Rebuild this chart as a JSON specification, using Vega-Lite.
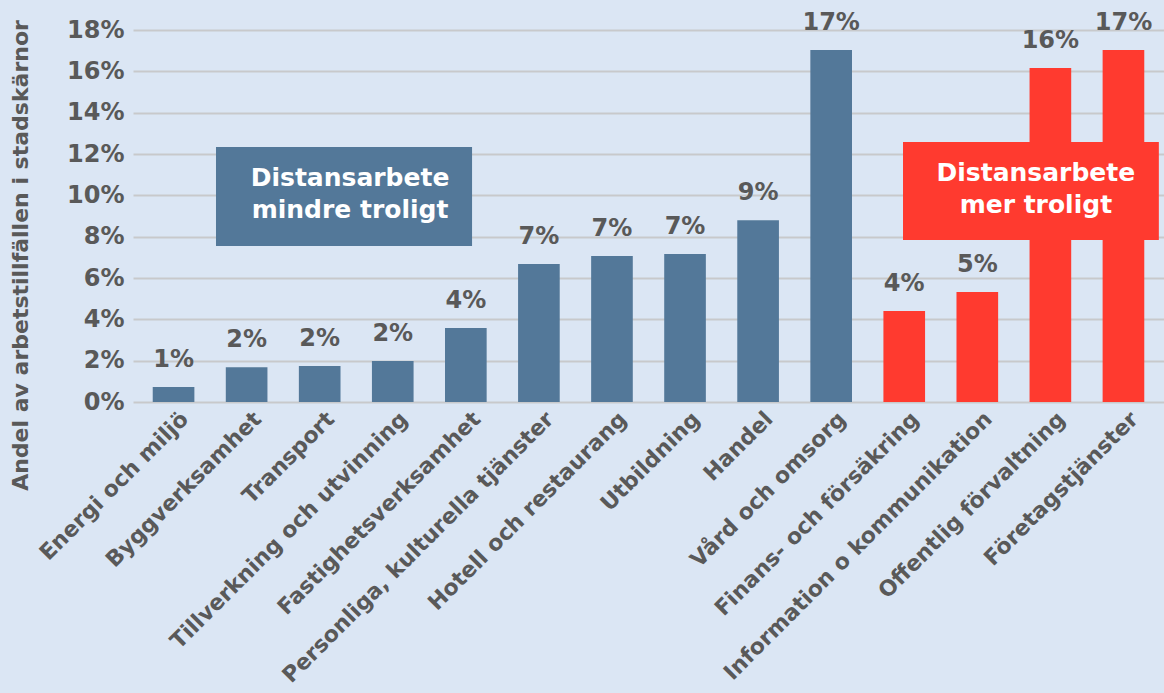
{
  "$schema": "https://vega.github.io/schema/vega-lite/v6.json",
  "width": 1031,
  "height": 372,
  "autosize": {"type": "none"},
  "padding": {"left": 133, "top": 30, "right": 0, "bottom": 291},
  "background": "#dbe6f4",
  "config": {"view": {"stroke": null}, "font": "DejaVu Sans"},
  "datasets": {
    "bars": [
      {"sektor": "Energi och miljö", "andel": 0.0072, "grupp": "mindre"},
      {"sektor": "Byggverksamhet", "andel": 0.0168, "grupp": "mindre"},
      {"sektor": "Transport", "andel": 0.0174, "grupp": "mindre"},
      {"sektor": "Tillverkning och utvinning", "andel": 0.0198, "grupp": "mindre"},
      {"sektor": "Fastighetsverksamhet", "andel": 0.0358, "grupp": "mindre"},
      {"sektor": "Personliga, kulturella tjänster", "andel": 0.0668, "grupp": "mindre"},
      {"sektor": "Hotell och restaurang", "andel": 0.0706, "grupp": "mindre"},
      {"sektor": "Utbildning", "andel": 0.0716, "grupp": "mindre"},
      {"sektor": "Handel", "andel": 0.088, "grupp": "mindre"},
      {"sektor": "Vård och omsorg", "andel": 0.1703, "grupp": "mindre"},
      {"sektor": "Finans- och försäkring", "andel": 0.044, "grupp": "mer"},
      {"sektor": "Information o kommunikation", "andel": 0.0532, "grupp": "mer"},
      {"sektor": "Offentlig förvaltning", "andel": 0.1616, "grupp": "mer"},
      {"sektor": "Företagstjänster", "andel": 0.1703, "grupp": "mer"}
    ],
    "boxes": [
      {"grupp": "mindre", "x0": 1.127, "x1": 4.604, "y0": 0.0755, "y1": 0.1234},
      {"grupp": "mer", "x0": 10.456, "x1": 13.93, "y0": 0.0784, "y1": 0.1258}
    ],
    "notes": [
      {"rad": "Distansarbete", "x": 2.947, "y": 0.1086},
      {"rad": "mindre troligt", "x": 2.947, "y": 0.093},
      {"rad": "Distansarbete", "x": 12.26, "y": 0.1108},
      {"rad": "mer troligt", "x": 12.26, "y": 0.0953}
    ]
  },
  "layer": [
    {
      "data": {"name": "bars"},
      "encoding": {
        "x": {
          "field": "sektor",
          "type": "nominal",
          "sort": null,
          "scale": {"paddingInner": 0.43, "paddingOuter": 0.27},
          "axis": {
            "title": null,
            "labelAngle": -45,
            "labelFontSize": 22,
            "labelFontWeight": "bold",
            "labelColor": "#595959",
            "labelLimit": 450,
            "labelPadding": 6,
            "labelOffset": 4,
            "ticks": false,
            "domain": false
          }
        },
        "y": {
          "field": "andel",
          "type": "quantitative",
          "scale": {"domain": [0, 0.18], "nice": false},
          "axis": {
            "title": "Andel av arbetstillfällen i stadskärnor",
            "titleFontSize": 22,
            "titleFontWeight": "bold",
            "titleColor": "#595959",
            "titleX": -113,
            "titleY": 225,
            "titleBaseline": "middle",
            "titleAlign": "center",
            "format": ".0%",
            "values": [0, 0.02, 0.04, 0.06, 0.08, 0.1, 0.12, 0.14, 0.16, 0.18],
            "labelFontSize": 24,
            "labelFontWeight": "bold",
            "labelColor": "#595959",
            "labelPadding": 9,
            "ticks": false,
            "domain": false,
            "grid": true,
            "gridColor": "#c8c9cb",
            "gridWidth": 2
          }
        }
      },
      "layer": [
        {
          "mark": {"type": "bar"},
          "encoding": {
            "color": {
              "field": "grupp",
              "type": "nominal",
              "scale": {"domain": ["mindre", "mer"], "range": ["#537899", "#ff3a2f"]},
              "legend": null
            }
          }
        },
        {
          "mark": {"type": "text", "baseline": "alphabetic", "dy": -20, "fontSize": 24, "fontWeight": "bold", "color": "#595959"},
          "encoding": {"text": {"field": "andel", "type": "quantitative", "format": ".0%"}}
        }
      ]
    },
    {
      "layer": [
        {
          "data": {"name": "boxes"},
          "mark": {"type": "rect"},
          "encoding": {
            "x": {"field": "x0", "type": "quantitative", "scale": {"domain": [0, 14], "nice": false, "zero": false}, "axis": null},
            "x2": {"field": "x1"},
            "y": {"field": "y0", "type": "quantitative"},
            "y2": {"field": "y1"},
            "color": {"field": "grupp", "type": "nominal", "legend": null}
          }
        },
        {
          "data": {"name": "notes"},
          "mark": {"type": "text", "baseline": "middle", "align": "center", "fontSize": 25, "fontWeight": "bold", "color": "white"},
          "encoding": {
            "x": {"field": "x", "type": "quantitative", "axis": null},
            "y": {"field": "y", "type": "quantitative"},
            "text": {"field": "rad", "type": "nominal"}
          }
        }
      ]
    }
  ],
  "resolve": {"scale": {"x": "independent"}, "axis": {"x": "independent"}}
}
